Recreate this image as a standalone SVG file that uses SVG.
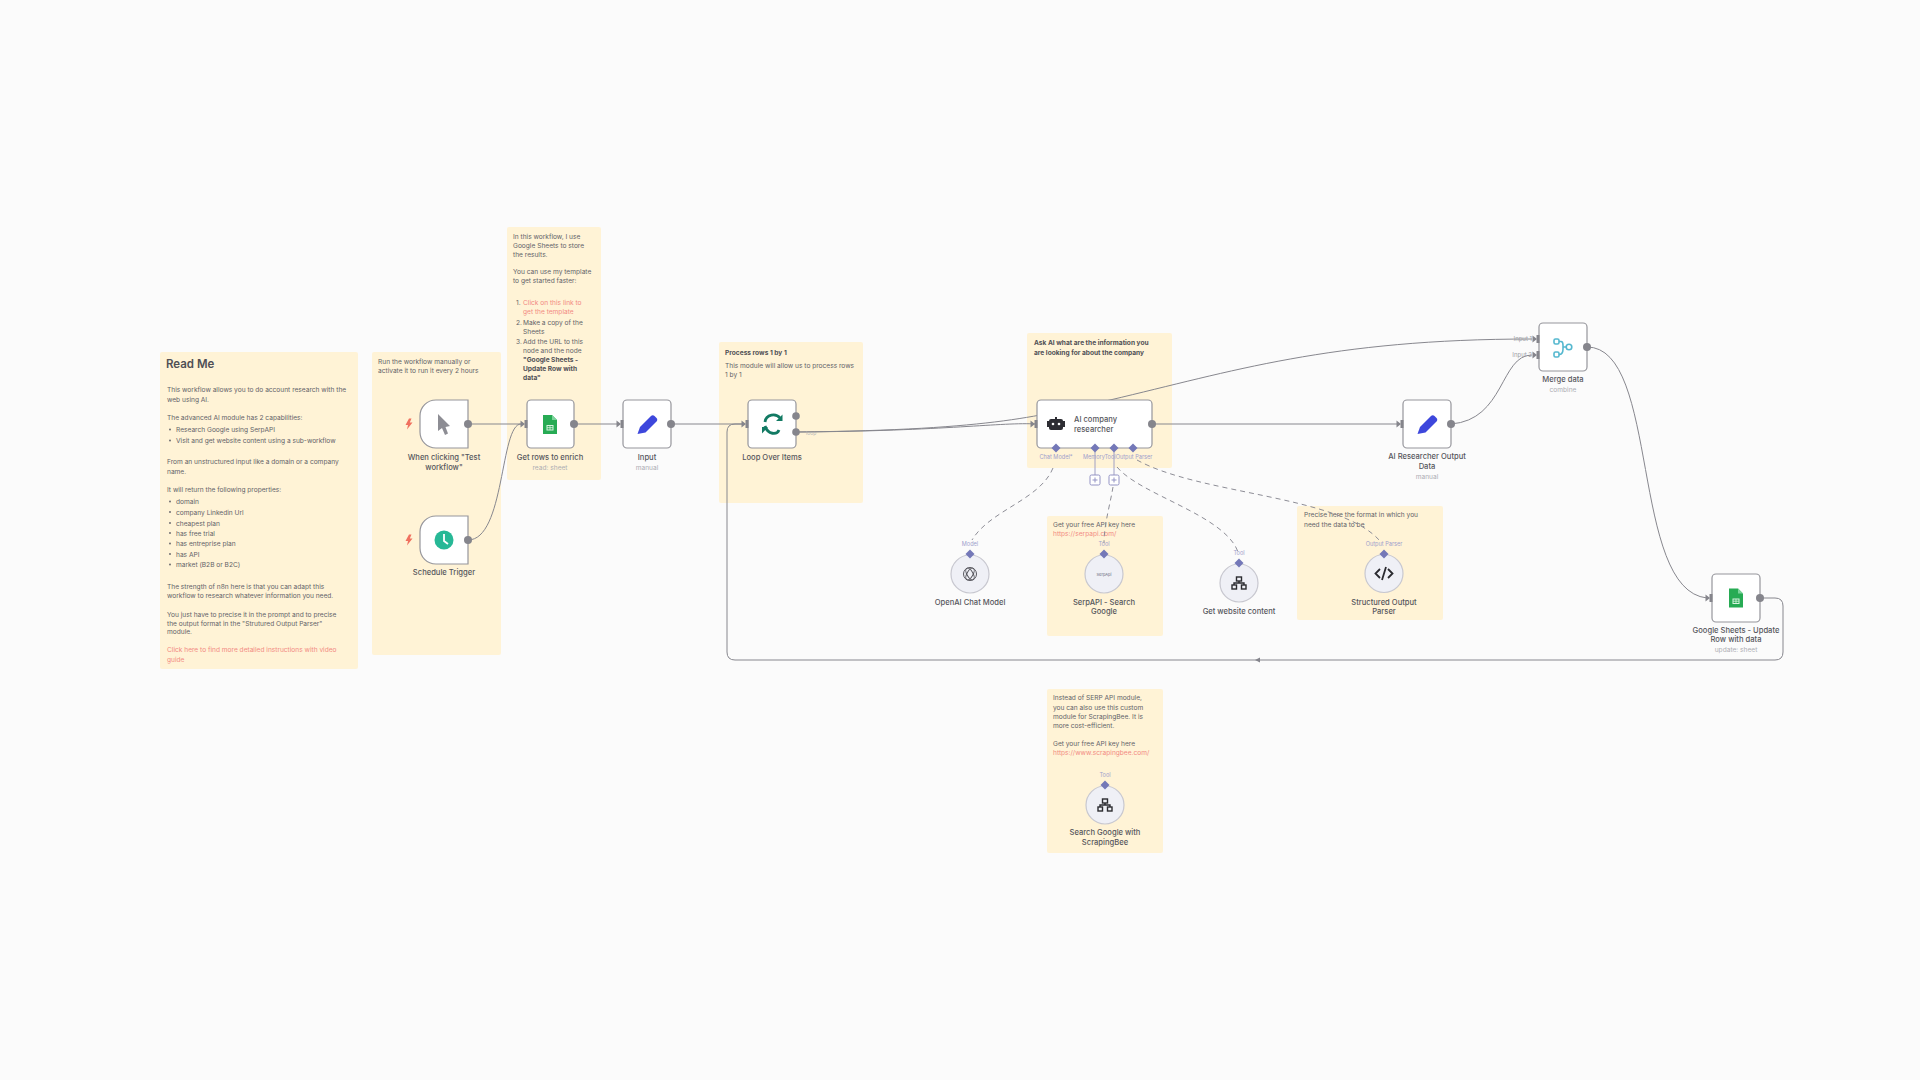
<svg xmlns="http://www.w3.org/2000/svg" width="1920" height="1080" viewBox="0 0 1920 1080">
<style>
text{font-family:Inter,"Liberation Sans",sans-serif;fill:#626268;font-size:6.6px}
.b{font-weight:700;fill:#4f4f55}
.r{fill:#f28a82}
.l{font-size:7.6px;font-weight:500;fill:#56565c;text-anchor:middle}
.s{font-size:6.6px;fill:#adadb3;text-anchor:middle}
.e{font-size:5.6px;fill:#a0a0cc;text-anchor:middle}
.i{font-size:6px;fill:#a0a0a6;text-anchor:end}
.note{fill:#fff3d6}
.node{fill:#fff;stroke:#96969c;stroke-width:1.2}
.sub{fill:#eff0f6;stroke:#c8c8d0;stroke-width:1.2}
.out{fill:#85858c}
.c{fill:none;stroke:#87878e;stroke-width:1}
.d{fill:none;stroke:#8d8d96;stroke-width:1;stroke-dasharray:5 4}
.dm{fill:#7478b8}
.pl{fill:#fff;stroke:#9393c4;stroke-width:1}
</style>
<defs>
<g id="inp"><rect x="-2.500" y="-4" width="3" height="8" fill="#85858c"/><path d="M-6.500 -3.500L-2 0L-6.500 3.500Z" fill="#85858c"/></g>
<path id="dia" d="M0 -4.500L4.500 0L0 4.500L-4.500 0Z" class="dm"/>
<path id="bolt" d="M0 -5.500L-3.500 1H-1L-2 5.500L3.500 -1.500H0.800L2.500 -5.500Z" fill="#f0705f"/>
<g id="tree" fill="none" stroke="#2b2b30" stroke-width="1.400"><rect x="-2.500" y="-6" width="5" height="4"/><rect x="-7" y="2" width="4.500" height="4"/><rect x="2.500" y="2" width="4.500" height="4"/><path d="M0 -2V0M-5 2V0H5V2"/></g>
<g id="sheet"><path d="M-7 -9.500H2L7 -4.500V9.500H-7Z" fill="#27ab54"/><path d="M2 -9.500L7 -4.500H2Z" fill="#7bd39a"/><rect x="-3" y="1" width="6" height="4.500" fill="none" stroke="#d8f3e0" stroke-width="1"/><path d="M-3 3.200H3M0 1V5.500" stroke="#d8f3e0" stroke-width=".8"/></g>
<path id="pen" d="M-9.500 10L-7 3L4 -8C5 -9 6.500 -9 7.500 -8L9.500 -6C10.500 -5 10.500 -3.500 9.500 -2.500L-1.500 8.500Z" fill="#3d47dc"/>
</defs>
<rect width="1920" height="1080" fill="#fbfbfb"/>

<g id="notes">
<rect class="note" x="160" y="352" width="198" height="317" rx="2"/>
<rect class="note" x="372" y="352" width="129" height="303" rx="2"/>
<rect class="note" x="507" y="227" width="94" height="253" rx="2"/>
<rect class="note" x="719" y="342" width="144" height="161" rx="2"/>
<rect class="note" x="1027" y="333" width="145" height="135" rx="2"/>
<rect class="note" x="1047" y="516" width="116" height="120" rx="2"/>
<rect class="note" x="1297" y="506" width="146" height="114" rx="2"/>
<rect class="note" x="1047" y="689" width="116" height="164" rx="2"/>
</g>

<g id="note-text">
<text x="166" y="368" style="font-size:11.500px;font-weight:600;fill:#4f4f55">Read Me</text>
<text x="167" y="392">This workflow allows you to do account research with the</text>
<text x="167" y="401.500">web using AI.</text>
<text x="167" y="419.500">The advanced AI module has 2 capabilities:</text>
<circle cx="170" cy="429.500" r=".9" fill="#626268"/><text x="176" y="432">Research Google using SerpAPI</text>
<circle cx="170" cy="440.500" r=".9" fill="#626268"/><text x="176" y="443">Visit and get website content using a sub-workflow</text>
<text x="167" y="464">From an unstructured input like a domain or a company</text>
<text x="167" y="473.500">name.</text>
<text x="167" y="491.500">It will return the following properties:</text>
<g fill="#626268"><circle cx="170" cy="501.500" r=".9"/><circle cx="170" cy="512" r=".9"/><circle cx="170" cy="523" r=".9"/><circle cx="170" cy="533" r=".9"/><circle cx="170" cy="543.500" r=".9"/><circle cx="170" cy="554" r=".9"/><circle cx="170" cy="564.500" r=".9"/></g>
<text x="176" y="504">domain</text>
<text x="176" y="514.500">company Linkedin Url</text>
<text x="176" y="525.500">cheapest plan</text>
<text x="176" y="535.500">has free trial</text>
<text x="176" y="546">has entreprise plan</text>
<text x="176" y="556.500">has API</text>
<text x="176" y="567">market (B2B or B2C)</text>
<text x="167" y="588.500">The strength of n8n here is that you can adapt this</text>
<text x="167" y="597.500">workflow to research whatever information you need.</text>
<text x="167" y="616.500">You just have to precise it in the prompt and to precise</text>
<text x="167" y="625.500">the output format in the "Strutured Output Parser"</text>
<text x="167" y="634">module.</text>
<text x="167" y="652" class="r">Click here to find more detailed instructions with video</text>
<text x="167" y="661.500" class="r">guide</text>

<text x="378" y="363.500">Run the workflow manually or</text>
<text x="378" y="372.500">activate it to run it every 2 hours</text>

<text x="513" y="238.500">In this workflow, I use</text>
<text x="513" y="247.500">Google Sheets to store</text>
<text x="513" y="256.500">the results.</text>
<text x="513" y="273.500">You can use my template</text>
<text x="513" y="282.500">to get started faster:</text>
<text x="516" y="304.500">1.</text><text x="523" y="304.500" class="r">Click on this link to</text>
<text x="523" y="313.500" class="r">get the template</text>
<text x="516" y="324.500">2.</text><text x="523" y="324.500">Make a copy of the</text>
<text x="523" y="333.500">Sheets</text>
<text x="516" y="343.500">3.</text><text x="523" y="343.500">Add the URL to this</text>
<text x="523" y="352.500">node and the node</text>
<text x="523" y="361.500" class="b">"Google Sheets -</text>
<text x="523" y="370.500" class="b">Update Row with</text>
<text x="523" y="379.500" class="b">data"</text>

<text x="725" y="354.500" class="b">Process rows 1 by 1</text>
<text x="725" y="367.500">This module will allow us to process rows</text>
<text x="725" y="376.500">1 by 1</text>

<text x="1034" y="345" class="b">Ask AI what are the information you</text>
<text x="1034" y="355" class="b">are looking for about the company</text>

<text x="1053" y="526.500">Get your free API key here</text>
<text x="1053" y="535.500" class="r">https://serpapi.com/</text>

<text x="1304" y="516.500">Precise here the format in which you</text>
<text x="1304" y="526.500">need the data to be</text>

<text x="1053" y="699.500">Instead of SERP API module,</text>
<text x="1053" y="709.500">you can also use this custom</text>
<text x="1053" y="718.500">module for ScrapingBee. It is</text>
<text x="1053" y="727.500">more cost-efficient.</text>
<text x="1053" y="745.500">Get your free API key here</text>
<text x="1053" y="754.500" class="r">https://www.scrapingbee.com/</text>
</g>

<g id="connectors">
<path class="c" d="M468 424H521"/>
<path class="c" d="M468 540C505 540 500 424 521 424"/>
<path class="c" d="M574 424H618"/>
<path class="c" d="M671 424H743"/>
<path class="c" d="M796 432C950 431 1000 422 1037 424"/>
<path class="c" d="M796 432C1000 430 1040 415 1110 400C1230 372 1330 339 1532 339"/>
<path class="c" d="M1152 424H1398"/>
<path class="c" d="M1451 424C1505 420 1500 355 1532 355"/>
<path class="c" d="M1587 347C1660 347 1630 590 1707 598"/>
<path class="c" d="M1760 598H1775Q1783 598 1783 606V652Q1783 660 1775 660H735Q727 660 727 652V432Q727 424 735 424H743"/>
<path d="M1260 657.500L1255 660L1260 662.500Z" fill="#85858c"/>
<path class="c" style="stroke:#a0a0c4" d="M1095 452V475M1114 452V475"/>
<path class="d" d="M1053 468C1040 500 990 510 972 540"/>
<path class="d" d="M1113 487C1110 505 1104 525 1104 543"/>
<path class="d" d="M1117 467C1140 495 1225 515 1238 552"/>
<path class="d" d="M1137 460C1200 495 1340 495 1380 541"/>
</g>

<g id="n-manual"><path class="node" d="M468 400V448H436C427 448 420 441 420 432V416C420 407 427 400 436 400Z"/><path d="M438 414L438 431L442 428L445 435L448 433.500L445.500 427L450 426Z" fill="#8d8d94"/><use href="#bolt" x="409" y="424"/><circle class="out" cx="468" cy="424" r="4"/><text class="l" x="444" y="459.500">When clicking "Test</text><text class="l" x="444" y="469.500">workflow"</text></g>
<g id="n-schedule"><path class="node" d="M468 516V564H436C427 564 420 557 420 548V532C420 523 427 516 436 516Z"/><circle cx="444" cy="540" r="9.500" fill="#27b896"/><path d="M444 534V541L448 544" fill="none" stroke="#fff" stroke-width="1.800"/><use href="#bolt" x="409" y="540"/><circle class="out" cx="468" cy="540" r="4"/><text class="l" x="444" y="574.500">Schedule Trigger</text></g>
<g id="n-rows"><rect class="node" x="527" y="400" width="47" height="48" rx="4"/><use href="#inp" x="527" y="424"/><use href="#sheet" x="550" y="424.500"/><circle class="out" cx="574" cy="424" r="4"/><text class="l" x="550" y="459.500">Get rows to enrich</text><text class="s" x="550" y="469.500">read: sheet</text></g>
<g id="n-input"><rect class="node" x="623" y="400" width="48" height="48" rx="4"/><use href="#inp" x="623" y="424"/><use href="#pen" x="647" y="424"/><circle class="out" cx="671" cy="424" r="4"/><text class="l" x="647" y="459.500">Input</text><text class="s" x="647" y="469.500">manual</text></g>
<g id="n-loop"><rect class="node" x="748" y="400" width="48" height="48" rx="4"/><use href="#inp" x="748" y="424"/><path d="M765 422C766 414 776 413 780 418M765 426C768 435 777 435 779 430" fill="none" stroke="#127a63" stroke-width="2.800"/><path d="M776 421L782.500 421V414.500ZM768 427H762V433.500Z" fill="#127a63"/><circle class="out" cx="796" cy="416" r="3.800"/><circle class="out" cx="796" cy="432" r="3.800"/><text class="l" x="772" y="459.500">Loop Over Items</text><text x="806" y="435" style="font-size:5px;fill:#b8b8b8">loop</text></g>
<g id="n-ai"><rect class="node" x="1037" y="400" width="115" height="48" rx="4"/><use href="#inp" x="1037" y="424"/><rect x="1049" y="419" width="14" height="11" rx="2" fill="#2d2d33"/><rect x="1047" y="421" width="2" height="6" fill="#2d2d33"/><rect x="1063" y="421" width="2" height="6" fill="#2d2d33"/><rect x="1055" y="417" width="2" height="3" fill="#2d2d33"/><circle cx="1053" cy="424" r="1.300" fill="#fff"/><circle cx="1059" cy="424" r="1.300" fill="#fff"/><circle class="out" cx="1152" cy="424" r="4"/><text x="1074" y="421.500" style="font-size:7.600px;font-weight:500;fill:#56565c">AI company</text><text x="1074" y="431.500" style="font-size:7.600px;font-weight:500;fill:#56565c">researcher</text><use href="#dia" x="1056" y="448"/><use href="#dia" x="1095" y="448"/><use href="#dia" x="1114" y="448"/><use href="#dia" x="1133" y="448"/><text class="e" x="1056" y="459">Chat Model*</text><text class="e" x="1094" y="459">Memory</text><text class="e" x="1110" y="459">Tool</text><text class="e" x="1134" y="459">Output Parser</text><rect class="pl" x="1090" y="475" width="10" height="10" rx="1.500"/><path d="M1092.500 480H1097.500M1095 477.500V482.500" stroke="#9393c4"/><rect class="pl" x="1109" y="475" width="10" height="10" rx="1.500"/><path d="M1111.500 480H1116.500M1114 477.500V482.500" stroke="#9393c4"/></g>
<g id="n-openai"><circle class="sub" cx="970" cy="574" r="19"/><g fill="none" stroke="#55555c" stroke-width="1"><circle cx="970" cy="574" r="6.500"/><ellipse cx="970" cy="574" rx="3" ry="6.500" transform="rotate(30 970 574)"/><ellipse cx="970" cy="574" rx="3" ry="6.500" transform="rotate(-30 970 574)"/></g><use href="#dia" x="970" y="554"/><text class="e" x="970" y="546">Model</text><text class="l" x="970" y="604.500">OpenAI Chat Model</text></g>
<g id="n-serp"><circle class="sub" cx="1104" cy="574" r="19"/><text x="1104" y="575.500" style="font-size:4px;text-anchor:middle;fill:#66667a">SerpApi</text><use href="#dia" x="1104" y="554"/><text class="e" x="1104" y="546">Tool</text><text class="l" x="1104" y="604.500">SerpAPI - Search</text><text class="l" x="1104" y="613.500">Google</text></g>
<g id="n-web"><circle class="sub" cx="1239" cy="583" r="19"/><use href="#tree" x="1239" y="583"/><use href="#dia" x="1239" y="563"/><text class="e" x="1239" y="555">Tool</text><text class="l" x="1239" y="613.500">Get website content</text></g>
<g id="n-parser"><circle class="sub" cx="1384" cy="573.500" r="19"/><path d="M1380 569L1375.500 573.500L1380 578M1388 569L1392.500 573.500L1388 578M1386 567L1382 580" fill="none" stroke="#2b2b30" stroke-width="1.800"/><use href="#dia" x="1384" y="554"/><text class="e" x="1384" y="546">Output Parser</text><text class="l" x="1384" y="604.500">Structured Output</text><text class="l" x="1384" y="613.500">Parser</text></g>
<g id="n-bee"><circle class="sub" cx="1105" cy="805" r="19"/><use href="#tree" x="1105" y="805"/><use href="#dia" x="1105" y="785"/><text class="e" x="1105" y="777">Tool</text><text class="l" x="1105" y="834.500">Search Google with</text><text class="l" x="1105" y="844.500">ScrapingBee</text></g>
<g id="n-aiout"><rect class="node" x="1403" y="400" width="48" height="48" rx="4"/><use href="#inp" x="1403" y="424"/><use href="#pen" x="1427" y="424"/><circle class="out" cx="1451" cy="424" r="4"/><text class="l" x="1427" y="458.500">AI Researcher Output</text><text class="l" x="1427" y="468.500">Data</text><text class="s" x="1427" y="478.500">manual</text></g>
<g id="n-merge"><rect class="node" x="1539" y="323" width="48" height="48" rx="4"/><use href="#inp" x="1539" y="339"/><use href="#inp" x="1539" y="355"/><g fill="none" stroke="#55b8cf" stroke-width="1.600"><rect x="1554" y="339" width="5" height="5" rx="1.500"/><rect x="1554" y="352" width="5" height="5" rx="1.500"/><circle cx="1569" cy="347" r="2.800"/><path d="M1559 341.500H1561Q1563 341.500 1563 345V349Q1563 354.500 1559 354.500M1563 347H1566"/></g><circle class="out" cx="1587" cy="347" r="4"/><text class="i" x="1532" y="341">Input 1</text><text class="i" x="1532" y="357">Input 2</text><text class="l" x="1563" y="381.500">Merge data</text><text class="s" x="1563" y="391.500">combine</text></g>
<g id="n-sheets"><rect class="node" x="1712" y="574" width="48" height="48" rx="4"/><use href="#inp" x="1712" y="598"/><use href="#sheet" x="1736" y="598"/><circle class="out" cx="1760" cy="598" r="4"/><text class="l" x="1736" y="632.500">Google Sheets - Update</text><text class="l" x="1736" y="641.500">Row with data</text><text class="s" x="1736" y="651.500">update: sheet</text></g>
</svg>
